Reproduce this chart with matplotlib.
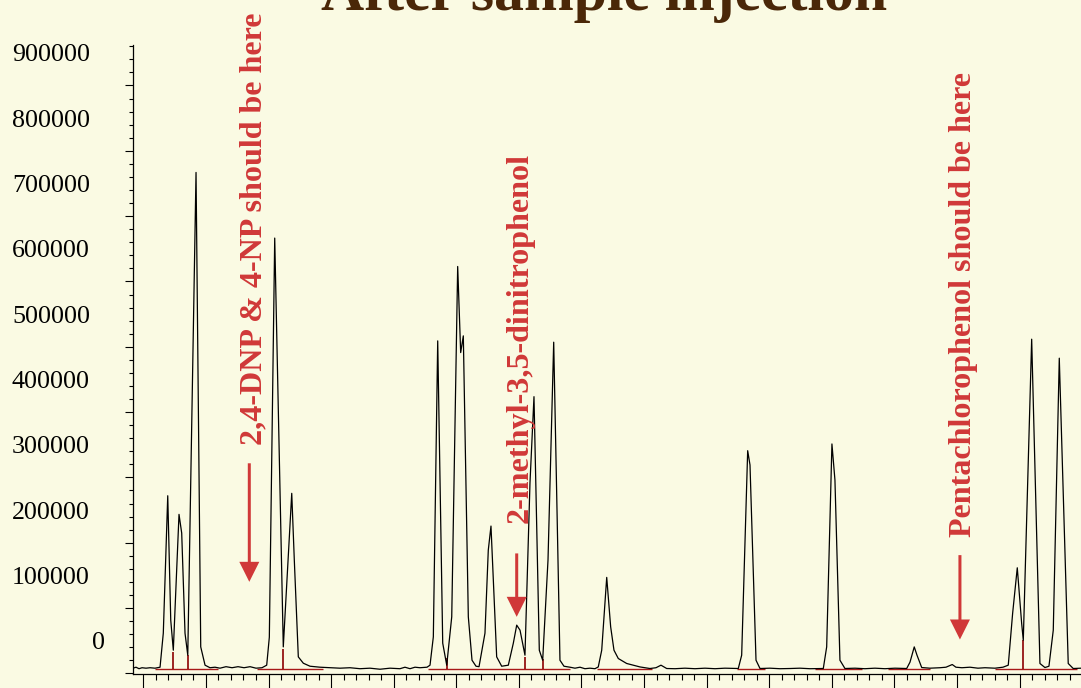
import matplotlib
matplotlib.use("Agg")
import matplotlib.pyplot as plt
from matplotlib.ticker import FixedLocator
import numpy as np

plt.rcParams['font.family'] = ['Liberation Serif', 'DejaVu Serif']

# chromatogram trace (time in min, detector signal)
time_min = [
    -0.165, -0.117, -0.069, -0.021, 0.043, 0.107, 0.187, 0.267,
    0.319, 0.390, 0.438, 0.479,
    0.570, 0.613, 0.666, 0.710,
    0.842, 0.917, 0.986, 1.065,
    1.145, 1.225, 1.321, 1.417, 1.513, 1.609, 1.705, 1.800, 1.896, 1.971,
    2.013, 2.099, 2.236,
    2.371, 2.412, 2.476, 2.556, 2.663, 2.823, 2.982,
    3.142, 3.302, 3.461, 3.621, 3.781, 3.940, 4.100, 4.180, 4.260, 4.340, 4.420, 4.532, 4.580,
    4.633, 4.703, 4.783, 4.847,
    4.927, 5.022, 5.070, 5.112, 5.192, 5.251, 5.315, 5.363,
    5.458, 5.511, 5.554, 5.645, 5.725, 5.831,
    5.911, 5.965, 6.018, 6.097,
    6.177, 6.241, 6.326, 6.380,
    6.465, 6.556, 6.656, 6.720, 6.816, 6.896, 6.976, 7.055, 7.135, 7.215, 7.268,
    7.323, 7.403, 7.466, 7.519, 7.588, 7.722, 7.935, 8.094, 8.190, 8.270, 8.361,
    8.494, 8.653, 8.813, 8.973, 9.133, 9.292, 9.505,
    9.559, 9.655, 9.692, 9.788, 9.852, 10.011, 10.171, 10.331, 10.490, 10.650, 10.863,
    10.917, 11.001, 11.049, 11.129, 11.209, 11.369, 11.528, 11.688, 11.848, 12.008, 12.195,
    12.248, 12.316, 12.360, 12.435, 12.567, 12.727, 12.823, 12.923, 12.982, 13.078, 13.206,
    13.334, 13.446, 13.605, 13.733, 13.818,
    13.888, 13.962, 14.032, 14.058,
    14.192, 14.324, 14.404, 14.468,
    14.537, 14.633, 14.776, 14.856, 14.981,
]
signal = [
    -42100, -40600, -42900, -41400, -42100, -41400, -42100, -40600,
    11500, 221900, 31400, -14600,
    193400, 164800, 11500, -22200,
    716900, -9500, -37500, -41400,
    -40600, -42100, -39800, -41400, -39800, -41400, -39800, -42100, -41400, -37500,
    5400, 616400, -9500,
    225600, 123400, -24800, -34500, -39100, -40600, -41400,
    -42100, -41400, -42900, -42100, -43700, -42100, -42900, -40600, -42900, -40600, -41400, -40600, -37500,
    5800, 459000, -3800, -37500,
    36500, 572900, 441100, 466700, 36500, -29900, -39100, -39800,
    11500, 138700, 175500, -24800, -39100, -37500,
    -3800, 23800, 16100, -22200,
    241400, 373600, -14600, -29900,
    123400, 457000, -29900, -39100, -40600, -42100, -40600, -42900, -42100, -42900, -40200,
    -14600, 96900, 21200, -14600, -27300, -34900, -40200, -42600, -41400, -37500, -42600,
    -42900, -42100, -42900, -42100, -42900, -42100, -42600,
    -22200, 290900, 269000, -29900, -42600, -42100, -42900, -42600, -42100, -42900, -42600,
    -9500, 301200, 246000, -29900, -42600, -42100, -42900, -42100, -42900, -42100, -42600,
    -32900, -9500, -22200, -41100, -42100, -41400, -40600, -36500, -40600, -41400, -40600,
    -42100, -41400, -42100, -40600, -37500,
    42100, 111600, 26400, 800,
    461600, -34900, -41100, -39100,
    16100, 432500, -34900, -42600, -42100,
]

# integration baselines drawn by the software
baseline_level = -42600
base_start = [0.187, 1.812, 4.553, 7.243, 9.479, 10.730, 11.901, 13.605]
base_end = [1.198, 2.875, 6.816, 8.121, 9.931, 11.476, 12.567, 14.911]
# drop lines where peaks were split
drop_times = [0.479, 0.710, 2.236, 4.847, 6.097, 6.380, 14.053]
drop_tops = [-17200, -22200, -12000, -26800, -24800, -28400, 800]

y_labels = [0, 100000, 200000, 300000, 400000, 500000, 600000, 700000, 800000, 900000]

# annotations: text, baseline x, start y, arrow x, arrow top, arrow tip
notes = ["2,4-DNP & 4-NP should be here", "2-methyl-3,5-dinitrophenol",
         "Pentachlorophenol should be here"]
note_x = [1.891, 6.134, 13.22]
note_y = [299600, 179600, 158600]
arrow_x = [1.693, 5.965, 13.046]
arrow_top = [271600, 133600, 131000]
arrow_tip = [90100, 36500, 1800]

bg = '#fafae3'
red = '#d03838'

fig = plt.figure(figsize=(10.81, 6.88), dpi=100, facecolor=bg)
ax = fig.add_axes([133/1081, 14/688, 948/1081, 629/688])
ax.set_facecolor(bg)

# red integration lines under the trace
ax.hlines([baseline_level]*len(base_start), base_start, base_end, color='#a81818', lw=1.0, zorder=2)
ax.vlines(drop_times, baseline_level, drop_tops, color='#8c0000', lw=1.2, zorder=2)

ax.plot(time_min, signal, color='black', lw=0.9, zorder=3)

ax.set_xlim(-0.165, 14.98)
ax.set_ylim(-51000, 912000)

for s in ['top', 'right']:
    ax.spines[s].set_visible(False)
for s in ['left', 'bottom']:
    ax.spines[s].set_linewidth(0.9)

ax.xaxis.set_major_locator(FixedLocator(np.arange(0, 15)))
ax.xaxis.set_minor_locator(FixedLocator(np.arange(-0.0, 15, 0.2)))
ax.tick_params(axis='x', which='major', length=10, width=0.8, labelbottom=False)
ax.tick_params(axis='x', which='minor', length=4.3, width=0.8)

ax.yaxis.set_major_locator(FixedLocator(np.arange(-50000, 900000, 100000)))
ax.yaxis.set_minor_locator(FixedLocator(np.arange(-50000, 910001, 20000)))
ax.tick_params(axis='y', which='major', length=6, width=0.8, labelleft=False)
ax.tick_params(axis='y', which='minor', length=3.2, width=0.8)

for v in y_labels:
    xpos = -0.0295 if v == 0 else -0.0454
    ax.text(xpos, v, str(v), transform=ax.get_yaxis_transform(), ha='right',
            va='center_baseline', fontsize=18.7, color='black')

for i in range(len(notes)):
    ax.text(note_x[i], note_y[i], notes[i], rotation=90, rotation_mode='anchor',
            ha='left', va='baseline', fontsize=23.1, fontweight='bold', color=red)
    ax.arrow(arrow_x[i], arrow_top[i], 0, arrow_tip[i] - arrow_top[i], width=0.048,
             head_width=0.32, head_length=30650, length_includes_head=True,
             color=red, lw=0, zorder=4)

fig.text(604/1081, 1 - 10/688, 'After sample injection', ha='center', va='baseline',
         fontsize=43, fontweight='bold', color='#4a2708')

fig.savefig('out.png', dpi=100, facecolor=bg)
